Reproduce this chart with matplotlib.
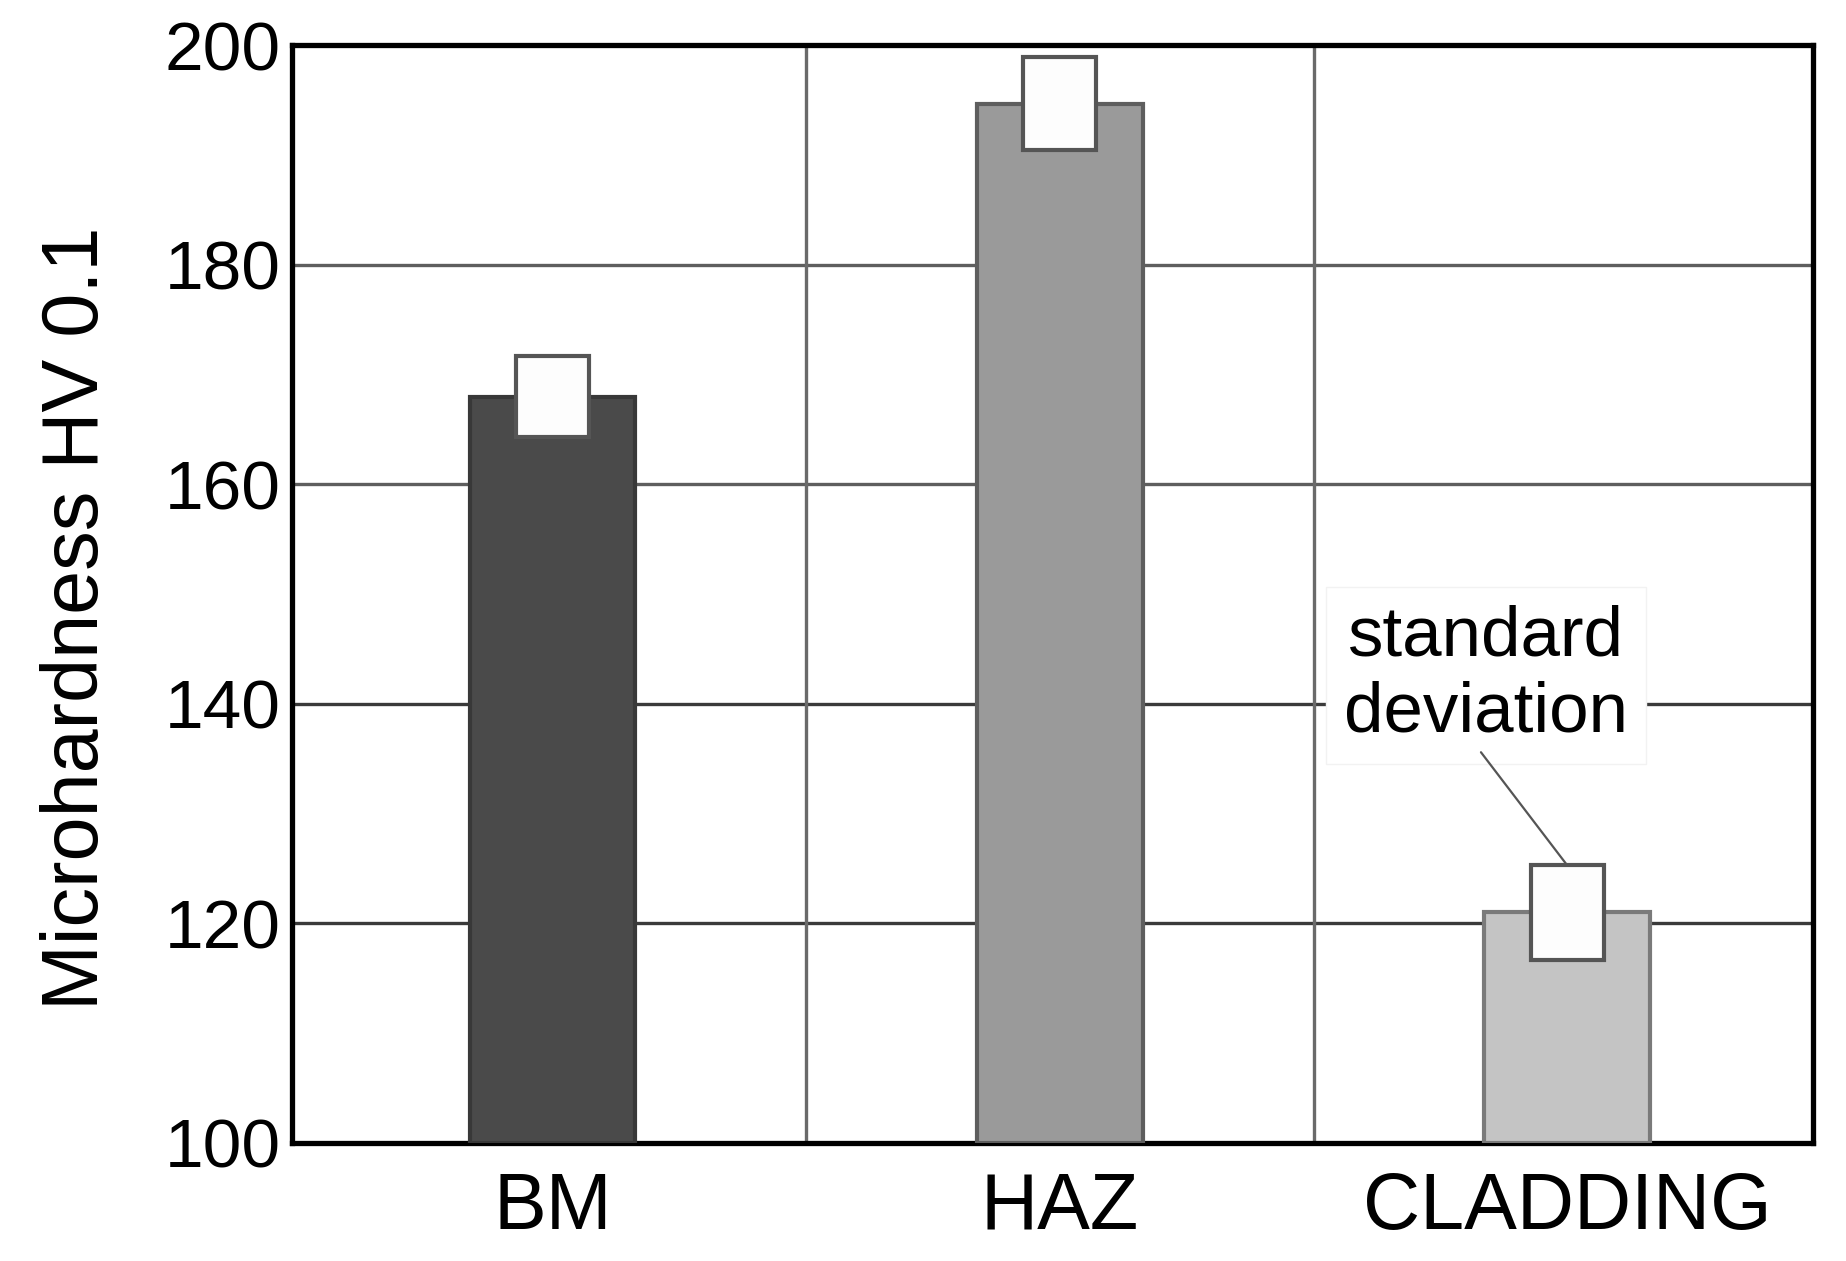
"""Microhardness HV 0.1 of BM, HAZ and cladding, bars with standard deviation boxes."""

import matplotlib
matplotlib.use("Agg")
import matplotlib.pyplot as plt
from matplotlib.patches import Rectangle

plt.rcParams["font.family"] = ["Liberation Sans", "DejaVu Sans"]

CATEGORIES = ["BM", "HAZ", "CLADDING"]
MEANS = [168.0, 194.7, 121.0]
STD_DEV = [3.7, 4.2, 4.3]
BAR_COLORS = ["#4a4a4a", "#9a9a9a", "#c4c4c4"]
BAR_EDGES = ["#383838", "#5e5e5e", "#7a7a7a"]
Y_TICKS = [100, 120, 140, 160, 180, 200]

BAR_W = 0.327
BOX_W = 0.144


def main() -> None:
    fig = plt.figure(figsize=(18.46, 12.61), dpi=100)
    ax = fig.add_axes([0.158, 0.0936, 0.824, 0.8704])

    xs = list(range(len(CATEGORIES)))
    ax.bar(xs, [m - 100 for m in MEANS], bottom=100, width=BAR_W,
           color=BAR_COLORS, edgecolor=BAR_EDGES, linewidth=3, zorder=3)
    for x, m, sd in zip(xs, MEANS, STD_DEV):
        ax.add_patch(Rectangle((x - BOX_W / 2, m - sd), BOX_W, 2 * sd,
                               facecolor="#fdfdfd", edgecolor="#555555",
                               linewidth=3, zorder=4))

    ax.set_xlim(-0.514, 2.484)
    ax.set_ylim(100, 200)
    ax.set_yticks(Y_TICKS)
    ax.set_xticks(xs)
    ax.set_xticklabels(CATEGORIES, fontsize=57)
    ax.tick_params(axis="y", labelsize=50, length=0, pad=8)
    ax.tick_params(axis="x", length=0, pad=20)
    ax.set_ylabel("Microhardness HV 0.1", fontsize=57)
    ax.yaxis.set_label_coords(-0.116, 0.478)

    for y in Y_TICKS[1:-1]:
        ax.axhline(y, color="#3a3a3a" if y <= 140 else "#5e5e5e", lw=2.4, zorder=1)
    for x in (0.5, 1.5):
        ax.axvline(x, color="#6a6a6a", lw=2.4, zorder=1)

    for side in ax.spines.values():
        side.set_linewidth(3.8)
        side.set_color("black")

    # label box, then a leader line from under the text to the cladding box
    ax.text(1.84, 142.6, "standard\ndeviation", ha="center", va="center",
            fontsize=51, linespacing=1.2, zorder=5,
            bbox=dict(boxstyle="square,pad=0.25", facecolor="white",
                      edgecolor="#f2f2f2", linewidth=1))
    ax.annotate("", xy=(2.0, MEANS[2] + STD_DEV[2]), xytext=(1.83, 135.6),
                arrowprops=dict(arrowstyle="-", color="#555555", lw=1.6,
                                shrinkA=0, shrinkB=0),
                zorder=6)

    fig.savefig("out.png", dpi=100, facecolor="white")
    plt.close(fig)


if __name__ == "__main__":
    main()
